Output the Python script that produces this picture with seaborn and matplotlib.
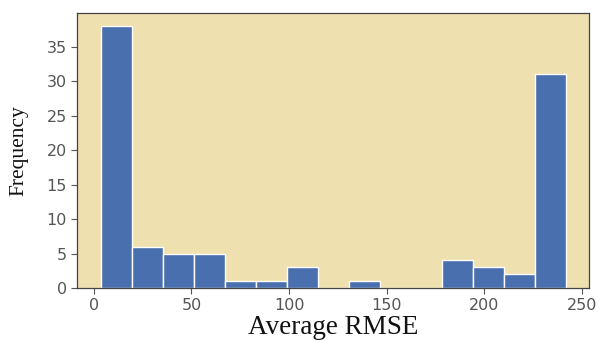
import numpy as np
import pandas as pd
import matplotlib
matplotlib.use("Agg")
import matplotlib.pyplot as plt
import seaborn as sns

# Histogram data
bin_start = 3.4
bin_end = 241.7
n_bins = 15
counts = [38, 6, 5, 5, 1, 1, 3, 0, 1, 0, 0, 4, 3, 2, 31]
xticks = [0, 50, 100, 150, 200, 250]
yticks = [0, 5, 10, 15, 20, 25, 30, 35]

edges = np.linspace(bin_start, bin_end, n_bins + 1)
centers = (edges[:-1] + edges[1:]) / 2
df = pd.DataFrame({"rmse": centers, "count": counts})

sns.set_theme(style="ticks")
plt.rcParams["font.family"] = ["DejaVu Sans"]
fig, ax = plt.subplots(figsize=(5.99, 3.40), dpi=100)
fig.subplots_adjust(left=0.129, right=0.983, top=0.962, bottom=0.153)

sns.histplot(data=df, x="rmse", weights="count", bins=n_bins,
             binrange=(bin_start, bin_end), color="#4a6fae", alpha=1,
             edgecolor="white", linewidth=1.0, ax=ax)

ax.set_facecolor("#efe0b0")
ax.set_xticks(xticks)
ax.set_yticks(yticks)
ax.tick_params(axis="both", colors="#555555", labelsize=11.5, length=4, width=0.8)
for s in ax.spines.values():
    s.set_color("#444444")
    s.set_linewidth(0.9)
ax.set_xlabel("Average RMSE", family="Liberation Serif", fontsize=19.5,
              color="#111111", labelpad=1)
ax.set_ylabel("Frequency", family="Liberation Serif", fontsize=15.5,
              color="#111111", labelpad=13)

fig.savefig("out.png", dpi=100)
